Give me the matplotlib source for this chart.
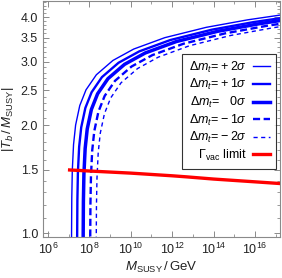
import numpy as np
import matplotlib
matplotlib.use('Agg')
import matplotlib.pyplot as plt
from matplotlib.ticker import FixedLocator, NullFormatter, FormatStrFormatter

plt.rcParams['font.family'] = ['Liberation Sans', 'DejaVu Sans']
plt.rcParams['mathtext.fontset'] = 'custom'
plt.rcParams['mathtext.rm'] = 'Liberation Sans'
plt.rcParams['mathtext.it'] = 'Liberation Sans:italic'
plt.rcParams['mathtext.bf'] = 'Liberation Sans:bold'

# log10(M_SUSY / GeV) and |T_b / M_SUSY|
logm_p2 = [7.141, 7.144, 7.155, 7.18, 7.24, 7.34, 7.54, 7.84, 8.34, 9.14, 10.14, 11.64, 13.64, 15.64, 17.2]
tb_p2 = [0.771, 0.989, 1.255, 1.497, 1.766, 2.001, 2.267, 2.507, 2.762, 3.028, 3.257, 3.504, 3.744, 3.929, 4.05]

logm_p1 = [7.411, 7.414, 7.425, 7.45, 7.51, 7.61, 7.81, 8.11, 8.61, 9.41, 10.41, 11.91, 13.91, 15.91, 17.2]
tb_p1 = [0.760, 0.974, 1.236, 1.475, 1.740, 1.971, 2.233, 2.469, 2.721, 2.983, 3.209, 3.452, 3.688, 3.871, 3.97]

logm_0 = [7.701, 7.704, 7.715, 7.74, 7.80, 7.90, 8.10, 8.40, 8.90, 9.70, 10.70, 12.20, 14.20, 16.20, 17.2]
tb_0 = [0.752, 0.965, 1.224, 1.460, 1.722, 1.951, 2.211, 2.445, 2.694, 2.953, 3.177, 3.418, 3.651, 3.832, 3.91]

logm_m1 = [8.041, 8.044, 8.055, 8.08, 8.14, 8.24, 8.44, 8.74, 9.24, 10.04, 11.04, 12.54, 14.54, 16.54, 17.2]
tb_m1 = [0.742, 0.951, 1.207, 1.440, 1.699, 1.924, 2.180, 2.411, 2.657, 2.913, 3.133, 3.370, 3.601, 3.779, 3.83]

logm_m2 = [8.331, 8.334, 8.345, 8.37, 8.43, 8.53, 8.73, 9.03, 9.53, 10.33, 11.33, 12.83, 14.83, 16.83, 17.2]
tb_m2 = [0.732, 0.939, 1.192, 1.422, 1.677, 1.900, 2.152, 2.380, 2.623, 2.875, 3.093, 3.327, 3.555, 3.731, 3.76]

logm_vac = [7.05, 8.0, 10.0, 12.0, 12.7, 14.0, 16.0, 17.2]
tb_vac = [1.50, 1.49, 1.47, 1.445, 1.435, 1.415, 1.39, 1.375]

curvas = [
    (logm_p2, tb_p2, r'$\Delta m_t\!=\!+2\sigma$', '-', 1.0),
    (logm_p1, tb_p1, r'$\Delta m_t\!=\!+1\sigma$', '-', 1.7),
    (logm_0, tb_0, r'$\Delta m_t\!=\;\;\;0\sigma$', '-', 2.5),
    (logm_m1, tb_m1, r'$\Delta m_t\!=\!-1\sigma$', (0, (3, 1.5)), 1.7),
    (logm_m2, tb_m2, r'$\Delta m_t\!=\!-2\sigma$', (0, (3, 2.5)), 1.0),
]

fig = plt.figure(figsize=(2.82, 2.78), dpi=100)
ax = fig.add_axes([0.152, 0.147, 0.841, 0.849])

for lm, tb, etiqueta, estilo, ancho in curvas:
    ax.plot(10 ** np.array(lm), tb, color=(0, 0, 1), ls=estilo, lw=ancho, label=etiqueta)
ax.plot(10 ** np.array(logm_vac), tb_vac, color=(1, 0, 0), lw=2.4,
        label=r'$\Gamma_{\rm vac}$ limit')

ax.set_xscale('log')
ax.set_yscale('log')
ax.set_xlim(10 ** 5.76, 10 ** 17.2)
ax.set_ylim(0.975, 4.43)

ax.xaxis.set_major_locator(FixedLocator([10.0 ** k for k in range(6, 18, 2)]))
ax.xaxis.set_minor_locator(FixedLocator([10.0 ** k for k in range(5, 18)]))
ax.xaxis.set_minor_formatter(NullFormatter())
ax.yaxis.set_major_locator(FixedLocator([1.0, 1.5, 2.0, 2.5, 3.0, 3.5, 4.0]))
ax.yaxis.set_major_formatter(FormatStrFormatter('%.1f'))
ax.yaxis.set_minor_locator(FixedLocator(np.arange(1.0, 4.45, 0.1)))
ax.yaxis.set_minor_formatter(NullFormatter())

gris = '#8a8a8a'
for s in ax.spines.values():
    s.set_color(gris)
    s.set_linewidth(0.8)
ax.tick_params(which='both', direction='in', top=True, right=True, color=gris,
               labelsize=9, labelcolor='#222222')
ax.tick_params(which='major', length=4, width=0.7)
ax.tick_params(which='minor', length=2, width=0.6)

ax.set_xlabel(r'$M_{\rm SUSY}\,/\,$GeV', fontsize=9.5, color='#222222', labelpad=2)
ax.set_ylabel(r'$|T_b\,/\,M_{\rm SUSY}|$', fontsize=9.5, color='#222222', labelpad=3)

leg = ax.legend(loc='upper right', bbox_to_anchor=(0.985, 0.778), markerfirst=False,
                fontsize=9, frameon=True, fancybox=False, handlelength=1.4,
                borderpad=0.5, labelspacing=0.2, handletextpad=0.5,
                borderaxespad=0.0)
leg.get_frame().set_edgecolor('black')
leg.get_frame().set_linewidth(0.8)

fig.savefig('out.png', dpi=100)
